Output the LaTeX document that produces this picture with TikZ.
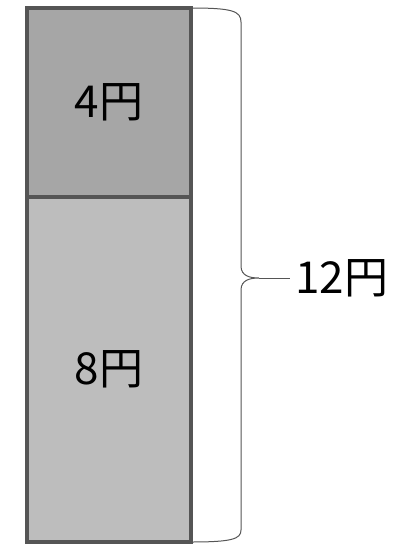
\documentclass[tikz,border=0pt]{standalone}
\usepackage{fontspec}
\newfontfamily\jpfont{Noto Sans CJK JP}
\usetikzlibrary{positioning}
\definecolor{bardark}{HTML}{A6A6A6}
\definecolor{barlight}{HTML}{BDBDBD}
\definecolor{barline}{HTML}{555555}
\definecolor{braceline}{HTML}{555555}
\tikzset{
  part/.style={draw=barline,line width=3.2pt,outer sep=0pt,minimum width=164pt,
               inner sep=0pt,font=\jpfont\fontsize{44}{44}\selectfont},
  brace/.style={draw=braceline,line width=1pt},
  total/.style={inner sep=0pt,font=\jpfont\fontsize{44}{44}\selectfont},
}
\begin{document}
\begin{tikzpicture}[x=1pt,y=-1pt]
  \useasboundingbox (0,0) rectangle (396,544);
  \node[part,fill=bardark,minimum height=189pt] (four) at (109,102.5) {4円};
  \node[part,fill=barlight,minimum height=345pt,below=0pt of four] (eight) {8円};
  % brace on the right
  \coordinate (tip) at (259,278);
  \draw[brace] (four.north east) .. controls (232,8) and (241,11) .. (241,22)
    -- (241,266) .. controls (241,276) and (250,278) .. (tip)
    .. controls (250,278) and (241,280) .. (241,290)
    -- (241,530) .. controls (241,539) and (232,542) .. (eight.south east);
  \node[total,right=36pt of tip,anchor=west] (twelve) {12円};
  \draw[brace,shorten >=5pt] (tip) -- (tip -| twelve.west);
\end{tikzpicture}
\end{document}
